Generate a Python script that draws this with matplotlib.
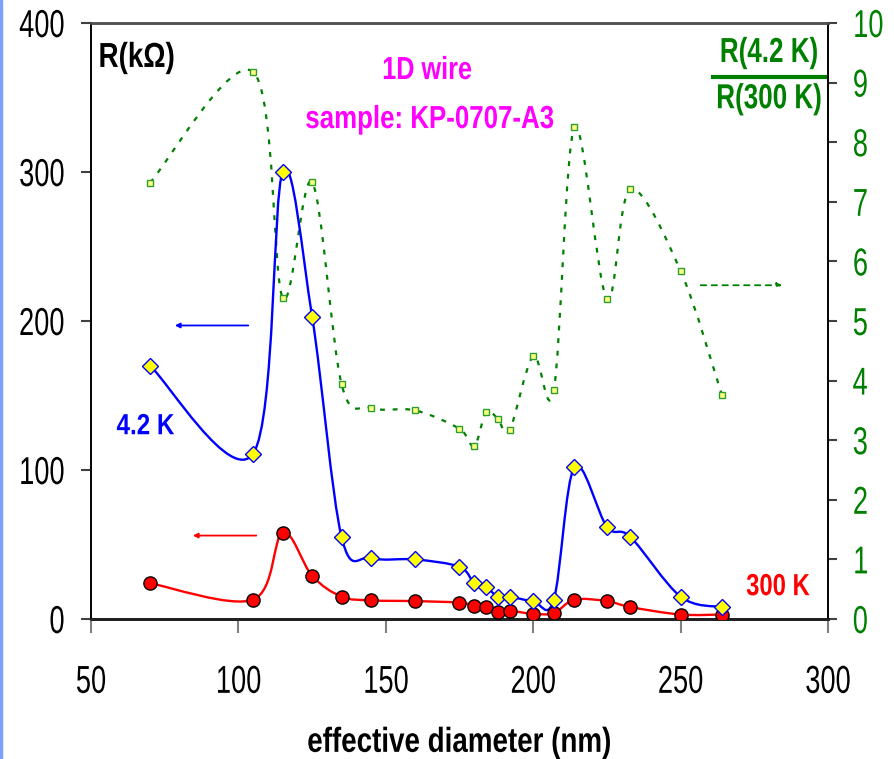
import matplotlib
matplotlib.use("Agg")
import matplotlib.pyplot as plt
from matplotlib.path import Path
from matplotlib.patches import PathPatch
from matplotlib.patheffects import AbstractPathEffect
from matplotlib.transforms import Affine2D
import numpy as np

plt.rcParams['font.family'] = ['Liberation Sans', 'DejaVu Sans']

# ефективний діаметр (nm)
diam = [70, 105, 115, 125, 135, 145, 160, 175, 180, 184, 188, 192, 200, 207,
        214, 225, 233, 250, 264]
# опір при 4.2 K (kOhm)
r_4k = [170, 111, 300, 203, 55, 41, 40, 35, 24, 21.5, 15, 15, 12, 13,
        102, 62, 55, 15, 8]
# опір при 300 K (kOhm)
r_300k = [24, 13, 58, 29, 15, 12.5, 12, 11, 9, 8, 5, 5.5, 3.5, 4,
          13, 12, 8, 3, 3]
# відношення R(4.2 K)/R(300 K)
ratio = [7.32, 9.18, 5.39, 7.33, 3.94, 3.54, 3.5, 3.19, 2.9, 3.47, 3.36, 3.17,
         4.41, 3.84, 8.25, 5.37, 7.21, 5.84, 3.76]

x_ticks = [50, 100, 150, 200, 250, 300]
y_ticks = [0, 100, 200, 300, 400]
y2_ticks = list(range(0, 11))

AX_W, AX_H = 737.0, 596.0


class Narrow(AbstractPathEffect):
    """Стиснення тексту по горизонталі (імітація вузького шрифту)"""

    def __init__(self, sx=0.8, anchor='center'):
        super().__init__()
        self.sx = sx
        self.anchor = anchor

    def draw_path(self, renderer, gc, tpath, affine, rgbFace=None):
        ext = tpath.get_extents()
        if self.anchor == 'left':
            x0 = ext.x0
        elif self.anchor == 'right':
            x0 = ext.x1
        else:
            x0 = (ext.x0 + ext.x1) / 2
        aff = Affine2D().translate(-x0, 0).scale(self.sx, 1).translate(x0, 0) + affine
        renderer.draw_path(gc, tpath, aff, rgbFace)


def smooth_path(x, y, xlim, ylim):
    # згладжена крива (Catmull-Rom -> Bezier), як у Excel
    sx = AX_W / (xlim[1] - xlim[0])
    sy = AX_H / (ylim[1] - ylim[0])
    p = np.column_stack([np.asarray(x, float) * sx, np.asarray(y, float) * sy])
    n = len(p)
    verts = [p[0]]
    codes = [Path.MOVETO]
    for i in range(n - 1):
        p0 = p[i - 1] if i > 0 else p[i]
        p1 = p[i]
        p2 = p[i + 1]
        p3 = p[i + 2] if i + 2 < n else p[i + 1]
        c1 = p1 + (p2 - p0) / 6.0
        c2 = p2 - (p3 - p1) / 6.0
        verts += [c1, c2, p2]
        codes += [Path.CURVE4] * 3
    verts = np.array(verts)
    verts[:, 0] /= sx
    verts[:, 1] /= sy
    return Path(verts, codes)


fig = plt.figure(figsize=(8.95, 7.59), dpi=100)
ax = fig.add_axes([91 / 895, 1 - 619 / 759, 737 / 895, 596 / 759])
ax2 = ax.twinx()

xlim = (50, 300)
ax.set_xlim(*xlim)
ax.set_ylim(0, 400)
ax2.set_ylim(0, 10)

# лінія відношення (права вісь)
ax2.add_patch(PathPatch(smooth_path(diam, ratio, xlim, (0, 10)), fill=False,
                        edgecolor='#008000', lw=1.6, linestyle=(0, (2.2, 3.5)),
                        zorder=2))
ax2.plot(diam, ratio, linestyle='none', marker='s', markersize=4.5,
         markerfacecolor='#ffff80', markeredgecolor='#2e9e2e',
         markeredgewidth=1, zorder=3)

ax.set_zorder(ax2.get_zorder() + 1)
ax.patch.set_visible(False)

# 4.2 K
ax.add_patch(PathPatch(smooth_path(diam, r_4k, xlim, (0, 400)), fill=False,
                       edgecolor='#0000ff', lw=1.7, zorder=2))
ax.plot(diam, r_4k, linestyle='none', marker='D', markersize=8.5,
        markerfacecolor='#ffff00', markeredgecolor='#0000ff',
        markeredgewidth=1, zorder=4)

# 300 K
ax.add_patch(PathPatch(smooth_path(diam, r_300k, xlim, (0, 400)), fill=False,
                       edgecolor='#ff0000', lw=1.7, zorder=2))
ax.plot(diam, r_300k, linestyle='none', marker='o', markersize=9.5,
        markerfacecolor='#ff0000', markeredgecolor='#000000',
        markeredgewidth=1, zorder=3)

# осі та поділки
ax.set_xticks(x_ticks)
ax.set_yticks(y_ticks)
ax2.set_yticks(y2_ticks)
ax.tick_params(axis='x', direction='out', length=10, width=1.5, color='#808080',
               labelsize=28, pad=23)
ax.tick_params(axis='y', direction='out', length=7.2, width=1.5, color='#404040',
               labelsize=28, pad=11.5)
ax2.tick_params(axis='y', direction='out', length=6.5, width=1.5, color='#404040',
                labelsize=28, labelcolor='#008000', pad=11)
for t in ax.xaxis.get_major_ticks():
    t.label1.set_path_effects([Narrow(0.7, 'center')])
for t in ax.yaxis.get_major_ticks():
    t.label1.set_path_effects([Narrow(0.7, 'right')])
for t in ax2.yaxis.get_major_ticks():
    t.label2.set_path_effects([Narrow(0.7, 'left')])

for a in (ax, ax2):
    a.spines['top'].set_color('#505050')
    a.spines['top'].set_linewidth(1.8)
    a.spines['bottom'].set_color('#202020')
    a.spines['bottom'].set_linewidth(2)
    a.spines['left'].set_linewidth(1.2)
    a.spines['right'].set_linewidth(1.2)

xl = ax.set_xlabel('effective diameter (nm)', fontsize=25, fontweight='bold',
                   labelpad=18)
xl.set_path_effects([Narrow(0.8, 'center')])

# підписи
t = ax.text(52.4, 370.5, 'R(k\u03a9)', fontsize=25, fontweight='bold',
            ha='left', va='baseline')
t.set_path_effects([Narrow(0.8, 'left')])
t = ax.text(164, 362.4, '1D wire', fontsize=23, fontweight='bold',
            color='#ff00ff', ha='center', va='baseline')
t.set_path_effects([Narrow(0.79, 'center')])
t = ax.text(165, 329.5, 'sample: KP-0707-A3', fontsize=23, fontweight='bold',
            color='#ff00ff', ha='center', va='baseline')
t.set_path_effects([Narrow(0.81, 'center')])
t = ax.text(68.5, 124, '4.2 K', fontsize=21, fontweight='bold',
            color='#0000ff', ha='center', va='baseline')
t.set_path_effects([Narrow(0.83, 'center')])
t = ax.text(283, 16, '300 K', fontsize=22, fontweight='bold',
            color='#ff0000', ha='center', va='baseline')
t.set_path_effects([Narrow(0.78, 'center')])
t = ax.text(0.92, 0.9346, 'R(4.2 K)', transform=ax.transAxes, fontsize=25,
            fontweight='bold', color='#008000', ha='center', va='baseline')
t.set_path_effects([Narrow(0.75, 'center')])
t = ax.text(0.92, 0.857, 'R(300 K)', transform=ax.transAxes, fontsize=25,
            fontweight='bold', color='#008000', ha='center', va='baseline')
t.set_path_effects([Narrow(0.75, 'center')])
ax.plot([0.844, 0.996], [0.909, 0.909], transform=ax.transAxes, color='#008000',
        lw=3, clip_on=False)

# стрілки
ax.annotate('', xy=(77.5, 197), xytext=(104.3, 197),
            arrowprops=dict(arrowstyle='-|>', color='#0000ff', lw=1.3,
                            mutation_scale=7))
ax.annotate('', xy=(83.6, 56), xytext=(107, 56),
            arrowprops=dict(arrowstyle='-|>', color='#ff0000', lw=1.3,
                            mutation_scale=7))
ax.annotate('', xy=(285.4, 224), xytext=(255.9, 224),
            arrowprops=dict(arrowstyle='-|>', color='#008000', lw=1.3,
                            linestyle=(0, (3, 3)), mutation_scale=7))

# синя смуга зліва
fig.patches.append(plt.Rectangle((0, 0), 2.5 / 895, 1, transform=fig.transFigure,
                                 color='#7f9fff', zorder=0))

fig.savefig('out.png', dpi=100)
